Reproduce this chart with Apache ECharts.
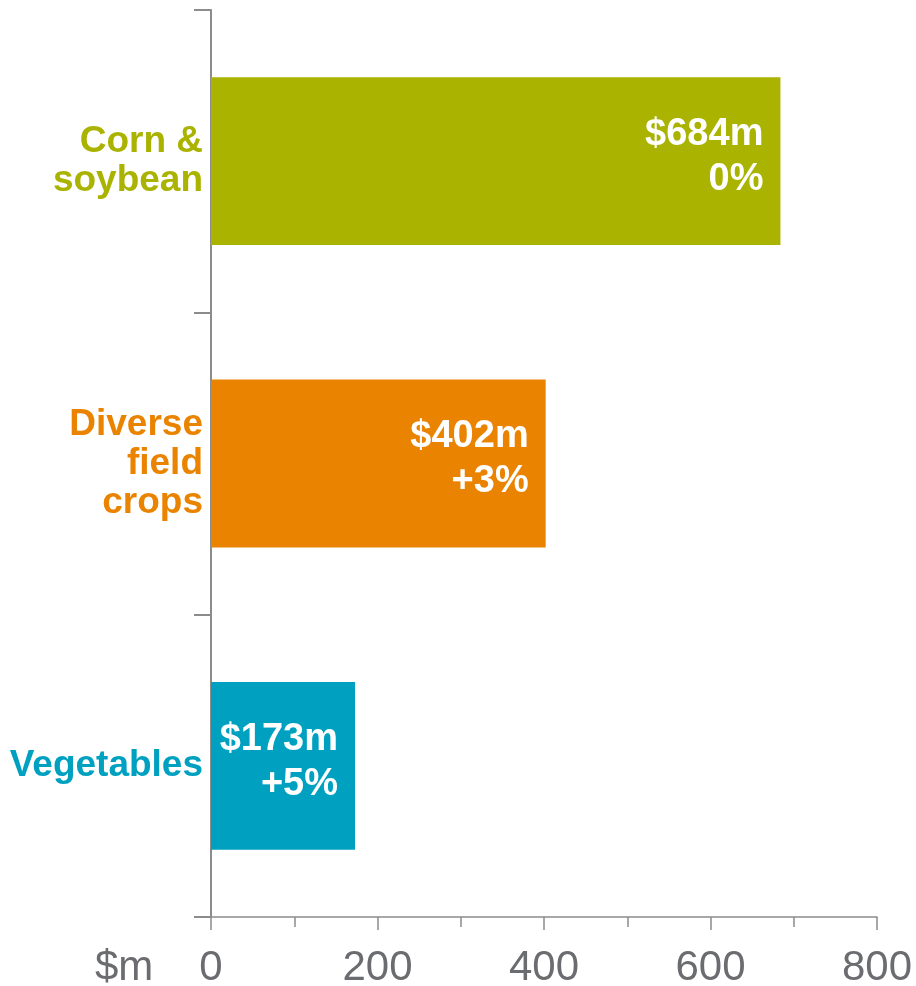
<!DOCTYPE html>
<html>
<head>
<meta charset="utf-8">
<script src="https://cdn.jsdelivr.net/npm/echarts@6/dist/echarts.min.js"></script>
<style>html,body{margin:0;padding:0;background:#fff}#c{width:916px;height:986px}</style>
</head>
<body>
<div id="c"></div>
<script>
const categories = ['Corn &\nsoybean', 'Diverse\nfield\ncrops', 'Vegetables'];
const values = [684, 402, 173];
const changes = ['0%', '+3%', '+5%'];
const colors = ['#A9B300', '#EA8300', '#00A1C0'];
const xTicks = [0, 200, 400, 600, 800];

const chart = echarts.init(document.getElementById('c'), null, {renderer: 'canvas'});
chart.setOption({
  animation: false,
  grid: {left: 211, right: 39, top: 10, bottom: 69, containLabel: false, outerBoundsMode: 'none'},
  xAxis: {
    type: 'value', min: 0, max: 800, interval: 200,
    axisLine: {show: true, lineStyle: {color: '#8c8c8c', width: 1.5}},
    axisTick: {show: true, length: 13, lineStyle: {color: '#8c8c8c', width: 1.5}},
    minorTick: {show: true, splitNumber: 2, length: 10, lineStyle: {color: '#8c8c8c', width: 1.5}},
    splitLine: {show: false},
    axisLabel: {
      margin: 30, fontSize: 42, color: '#6b6c70', fontFamily: 'Liberation Sans',
      formatter: v => xTicks.includes(v) ? String(v) : ''
    }
  },
  yAxis: {
    type: 'category', data: categories, inverse: true,
    axisLine: {show: true, lineStyle: {color: '#8c8c8c', width: 2}},
    axisTick: {show: true, length: 17, lineStyle: {color: '#8c8c8c', width: 2}},
    axisLabel: {
      margin: 8, fontSize: 37, fontWeight: 'bold', fontFamily: 'Liberation Sans',
      lineHeight: 39, align: 'right',
      color: (v, i) => colors[i]
    }
  },
  graphic: [{
    type: 'text', left: 95, top: 947,
    style: {text: '$m', fontSize: 42, fill: '#6b6c70', fontFamily: 'Liberation Sans'}
  }],
  series: [{
    type: 'bar', barWidth: '55.5%',
    data: values.map((v, i) => ({value: v, itemStyle: {color: colors[i]}})),
    label: {
      show: true, position: 'insideRight', distance: 17, offset: [0, -4],
      color: '#fff', fontSize: 38, fontWeight: 'bold', fontFamily: 'Liberation Sans',
      lineHeight: 45, align: 'right',
      formatter: p => '$' + p.value + 'm\n' + changes[p.dataIndex]
    }
  }]
});
</script>
</body>
</html>
